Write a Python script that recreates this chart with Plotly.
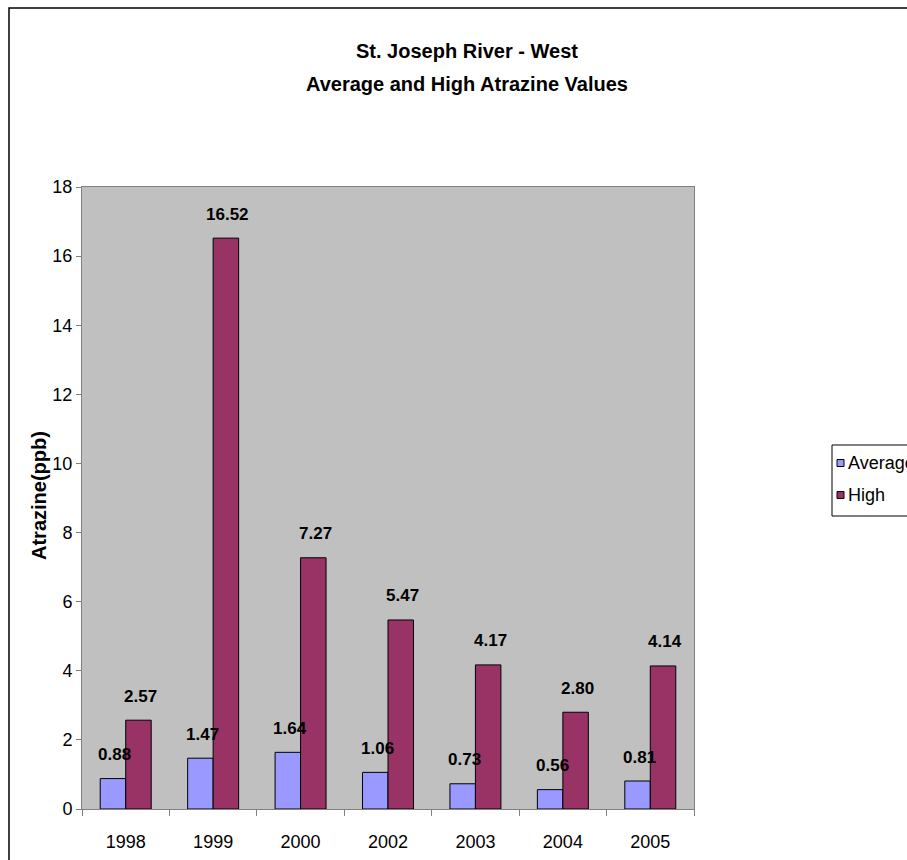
import plotly.graph_objects as go

# Atrazine sampling results, St. Joseph River - West
years = ["1998", "1999", "2000", "2002", "2003", "2004", "2005"]
average_ppb = [0.88, 1.47, 1.64, 1.06, 0.73, 0.56, 0.81]
high_ppb = [2.57, 16.52, 7.27, 5.47, 4.17, 2.80, 4.14]
y_ticks = [0, 2, 4, 6, 8, 10, 12, 14, 16, 18]

AVG_COLOR = "#9999FF"
HIGH_COLOR = "#993366"
PLOT_BG = "#C0C0C0"
FONT = "Liberation Sans Narrow, Arial Narrow, Liberation Sans, Arial, sans-serif"

W, H = 907, 860
L, R, T, B = 82, 213, 187, 51
PW, PH = W - L - R, H - T - B


def px_x(x):
    """Convert a pixel column into paper x."""
    return (x - L) / PW


def px_y(y):
    """Convert a pixel row into paper y."""
    return 1 - (y - T) / PH


fig = go.Figure()
fig.add_trace(go.Bar(name="Average", x=years, y=average_ppb,
                     marker=dict(color=AVG_COLOR, line=dict(color="black", width=1))))
fig.add_trace(go.Bar(name="High", x=years, y=high_ppb,
                     marker=dict(color=HIGH_COLOR, line=dict(color="black", width=1))))

annotations = []
# value labels above each bar (x given as category index)
for series, shift in ((average_ppb, -12.75), (high_ppb, 12.75)):
    for i, v in enumerate(series):
        annotations.append(dict(
            x=i, y=v, xref="x", yref="y", text=f"<b>{v:.2f}</b>", showarrow=False,
            xshift=shift + 2, yshift=24, yanchor="middle",
            font=dict(family=FONT, size=17, color="black")))

# chart title (two lines)
annotations.append(dict(x=px_x(467), y=px_y(51), xref="paper", yref="paper",
                        text="<b>St. Joseph River - West</b>", showarrow=False,
                        yanchor="middle", font=dict(family=FONT, size=20, color="black")))
annotations.append(dict(x=px_x(467), y=px_y(84), xref="paper", yref="paper",
                        text="<b>Average and High Atrazine Values</b>", showarrow=False,
                        yanchor="middle", font=dict(family=FONT, size=20, color="black")))
# y-axis title
annotations.append(dict(x=px_x(39), y=px_y(496), xref="paper", yref="paper",
                        text="<b>Atrazine(ppb)</b>", showarrow=False, textangle=-90,
                        xanchor="center", yanchor="middle",
                        font=dict(family=FONT, size=20, color="black")))

# legend entries
legend_items = [("Average", AVG_COLOR, 463), ("High", HIGH_COLOR, 495)]
shapes = [
    # outer chart border
    dict(type="rect", xref="paper", yref="paper", x0=px_x(9), x1=px_x(940),
         y0=px_y(8), y1=px_y(900), line=dict(color="black", width=1.5), layer="below"),
    # legend frame
    dict(type="rect", xref="paper", yref="paper", x0=px_x(832), x1=px_x(940),
         y0=px_y(445), y1=px_y(516), line=dict(color="black", width=1),
         fillcolor="white"),
]
for name, color, cy in legend_items:
    shapes.append(dict(type="rect", xref="paper", yref="paper",
                       x0=px_x(837), x1=px_x(844), y0=px_y(cy - 3.5), y1=px_y(cy + 3.5),
                       line=dict(color="black", width=1), fillcolor=color))
    annotations.append(dict(x=px_x(846), y=px_y(cy), xref="paper", yref="paper",
                            text=name, showarrow=False, xanchor="left", yanchor="middle",
                            font=dict(family=FONT, size=18, color="black")))

fig.update_layout(
    width=W, height=H,
    margin=dict(l=L, r=R, t=T, b=B, autoexpand=False),
    paper_bgcolor="white", plot_bgcolor=PLOT_BG,
    barmode="group", bargap=0.417, bargroupgap=0,
    showlegend=False,
    font=dict(family=FONT, size=17, color="black"),
    annotations=annotations, shapes=shapes,
)
fig.update_xaxes(type="category", range=[-0.5, len(years) - 0.5], showline=True,
                 linecolor="#808080", linewidth=1, mirror=True, ticks="outside",
                 ticklen=6, tickcolor="#808080", tickson="boundaries",
                 ticklabelstandoff=16, showgrid=False, tickangle=0,
                 tickfont=dict(family=FONT, size=18))
fig.update_yaxes(range=[0, 18], tickvals=y_ticks, showline=True, linecolor="#808080",
                 linewidth=1, mirror=True, ticks="outside", ticklen=5,
                 tickcolor="#808080", showgrid=False, zeroline=False,
                 tickfont=dict(family=FONT, size=18))

fig.write_html("out.html")
